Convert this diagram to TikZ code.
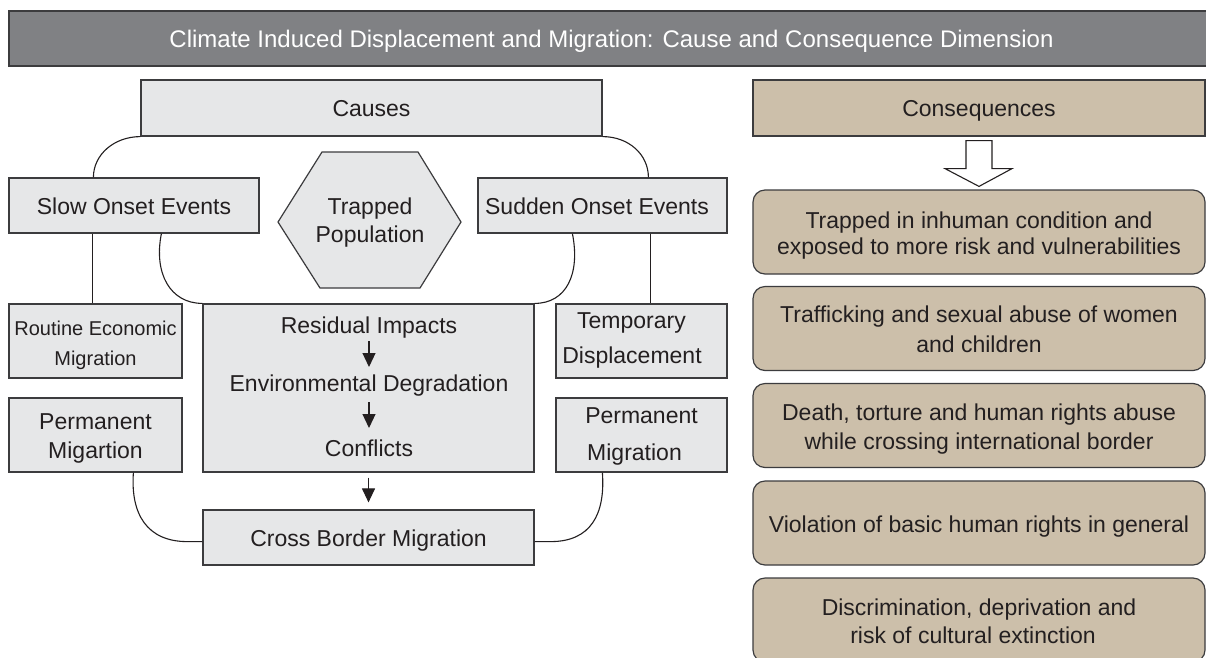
\documentclass[tikz,border=0pt]{standalone}
\usepackage{fontspec}
\setmainfont{Liberation Sans}
\usetikzlibrary{arrows.meta,calc}
\definecolor{barfill}{HTML}{808184}
\definecolor{boxfill}{HTML}{E6E7E8}
\definecolor{tanfill}{HTML}{CCBFAA}
\definecolor{ink}{HTML}{231F20}
\definecolor{edge}{HTML}{3C3C3E}
\newcommand\mystrut{\rule{0pt}{24pt}}
\begin{document}
\begin{tikzpicture}[x=1pt,y=-1pt,
  every node/.style={font=\fontsize{23}{28}\selectfont, text=ink, align=center,
    execute at begin node={\rule{0pt}{24pt}},
    execute at end node={\rule[-6pt]{0pt}{0pt}}},
  lowdepth/.style={execute at end node={\rule[-#1]{0pt}{0pt}}},
  gbox/.style={draw=edge, fill=boxfill, line width=1.2pt, inner sep=0pt},
  tbox/.style={draw=edge, fill=tanfill, line width=1.2pt, rounded corners=12pt, inner sep=0pt,
    minimum width=452pt, minimum height=84pt},
  link/.style={draw=ink, line width=1.1pt},
  arr/.style={draw=ink, line width=1.1pt, -{Triangle[length=14pt,width=13pt]}},
  hollow/.style={draw=ink, fill=white, line width=1.1pt, line join=miter}]
\useasboundingbox (0,0) rectangle (1206,657);
\clip (0,0) rectangle (1206,657);
\fill[white] (0,0) rectangle (1206,657);

% title
\node[draw=edge, fill=barfill, line width=1.8pt, minimum width=1205pt, minimum height=55pt,
  inner sep=0pt, text=white, font=\fontsize{24}{28}\selectfont] (title) at (611.5,38.5)
  {Climate Induced Displacement and Migration: Cause and Consequence Dimension};

% causes side
\node[gbox, minimum width=461pt, minimum height=56pt, lowdepth=8pt] (causes) at (371.5,108) {Causes};
\node[gbox, minimum width=250pt, minimum height=55pt] (slow) at (134,205.5) {Slow Onset Events};
\node[gbox, minimum width=249pt, minimum height=55pt] (sudden) at (602.5,205.5) {Sudden Onset Events\hspace*{11pt}};
\draw[gbox] (278,222) coordinate (hexW) -- (322,152) -- (418,152) -- (461,222) coordinate (hexE)
  -- (420,288) -- (320,288) -- cycle;
\node (trapped) at (370,219) {\mystrut Trapped\\Population};

\node[gbox, minimum width=173pt, minimum height=74pt, font=\fontsize{20}{30}\selectfont]
  (routine) at (95.5,341) {\mystrut Routine Economic\\Migration};
\node[gbox, minimum width=173pt, minimum height=74pt, font=\fontsize{23}{29}\selectfont]
  (permL) at (95.5,435) {\mystrut Permanent\\Migartion};
\node[gbox, minimum width=331pt, minimum height=168pt] (resid) at (368.5,388) {};
\node[inner sep=0pt] (r1) at (369,324) {Residual Impacts};
\node[inner sep=0pt] (r2) at (369,382) {Environmental Degradation};
\node[inner sep=0pt] (r3) at (369,447) {Conflicts};
\node[gbox, minimum width=171pt, minimum height=74pt, font=\fontsize{23}{35}\selectfont, lowdepth=15pt]
  (temp) at (641.5,341) {\mystrut Temporary\hspace*{20pt}\\Displacement\hspace*{19pt}};
\node[gbox, minimum width=171pt, minimum height=74pt, font=\fontsize{23}{37}\selectfont, lowdepth=11pt]
  (permR) at (641.5,435) {\mystrut Permanent\\Migration\hspace*{14pt}};
\node[gbox, minimum width=331pt, minimum height=55pt, lowdepth=3pt] (cross) at (368.5,537.5) {Cross Border Migration};

% connectors causes
\draw[link] (causes.south west) .. controls +(-26,0) and +(0,-23) .. ($(slow.north west)+(85,0)$);
\draw[link] (causes.south east) .. controls +(26,0) and +(0,-23) .. ($(sudden.north west)+(171,0)$);
\draw[link] ($(slow.south west)+(153,0)$) .. controls +(-8,40) and +(-32,0) .. (resid.north west);
\draw[link] ($(sudden.south west)+(95,0)$) .. controls +(8,40) and +(32,0) .. (resid.north east);
\draw[link] ($(slow.south west)+(84,0)$) -- ($(routine.north west)+(84,0)$);
\draw[link] ($(sudden.south west)+(173,0)$) -- ($(temp.north west)+(95,0)$);
\draw[link] ($(permL.south west)+(125,0)$) .. controls +(-3,42) and +(-40,0) .. ($(cross.south west)+(-15,-24)$)
  -- ($(cross.south west)+(0,-24)$);
\draw[link] ($(permR.south west)+(47,0)$) .. controls +(3,42) and +(40,0) .. ($(cross.south east)+(16,-24)$)
  -- ($(cross.south east)+(0,-24)$);
\draw[arr] ([yshift=-17pt]r1.center) -- ([yshift=15pt]r2.center);
\draw[arr] ([yshift=-20pt]r2.center) -- ([yshift=19pt]r3.center);
\draw[arr, shorten <=5pt, shorten >=7pt] (resid.south) -- (cross.north);

% consequences side
\node[gbox, fill=tanfill, minimum width=452pt, minimum height=56pt, lowdepth=8pt] (cons) at (979,108) {Consequences};
\node[tbox, lowdepth=2pt, font=\fontsize{23}{26}\selectfont] (c1) at (979,232) {\mystrut Trapped in inhuman condition and\\exposed to more risk and vulnerabilities};
\node[tbox, font=\fontsize{23}{30}\selectfont] (c2) at (979,328.5) {\mystrut Trafficking and sexual abuse of women\\and children};
\node[tbox, font=\fontsize{23}{29}\selectfont] (c3) at (979,425.5) {\mystrut Death, torture and human rights abuse\\while crossing international border};
\node[tbox, lowdepth=4pt] (c4) at (979,523) {Violation of basic human rights in general};
\node[tbox] (c5) at (979,620) {\mystrut Discrimination, deprivation and\\risk of cultural extinction\hspace*{12pt}};

\draw[hollow] ($(cons.south)+(-13,4)$) -- ++(26,0) -- ++(0,28) -- ++(20,0)
  -- ($(c1.north)+(0,-3)$) -- ($(cons.south)+(-34,32)$) -- ++(21,0) -- cycle;
\end{tikzpicture}
\end{document}
